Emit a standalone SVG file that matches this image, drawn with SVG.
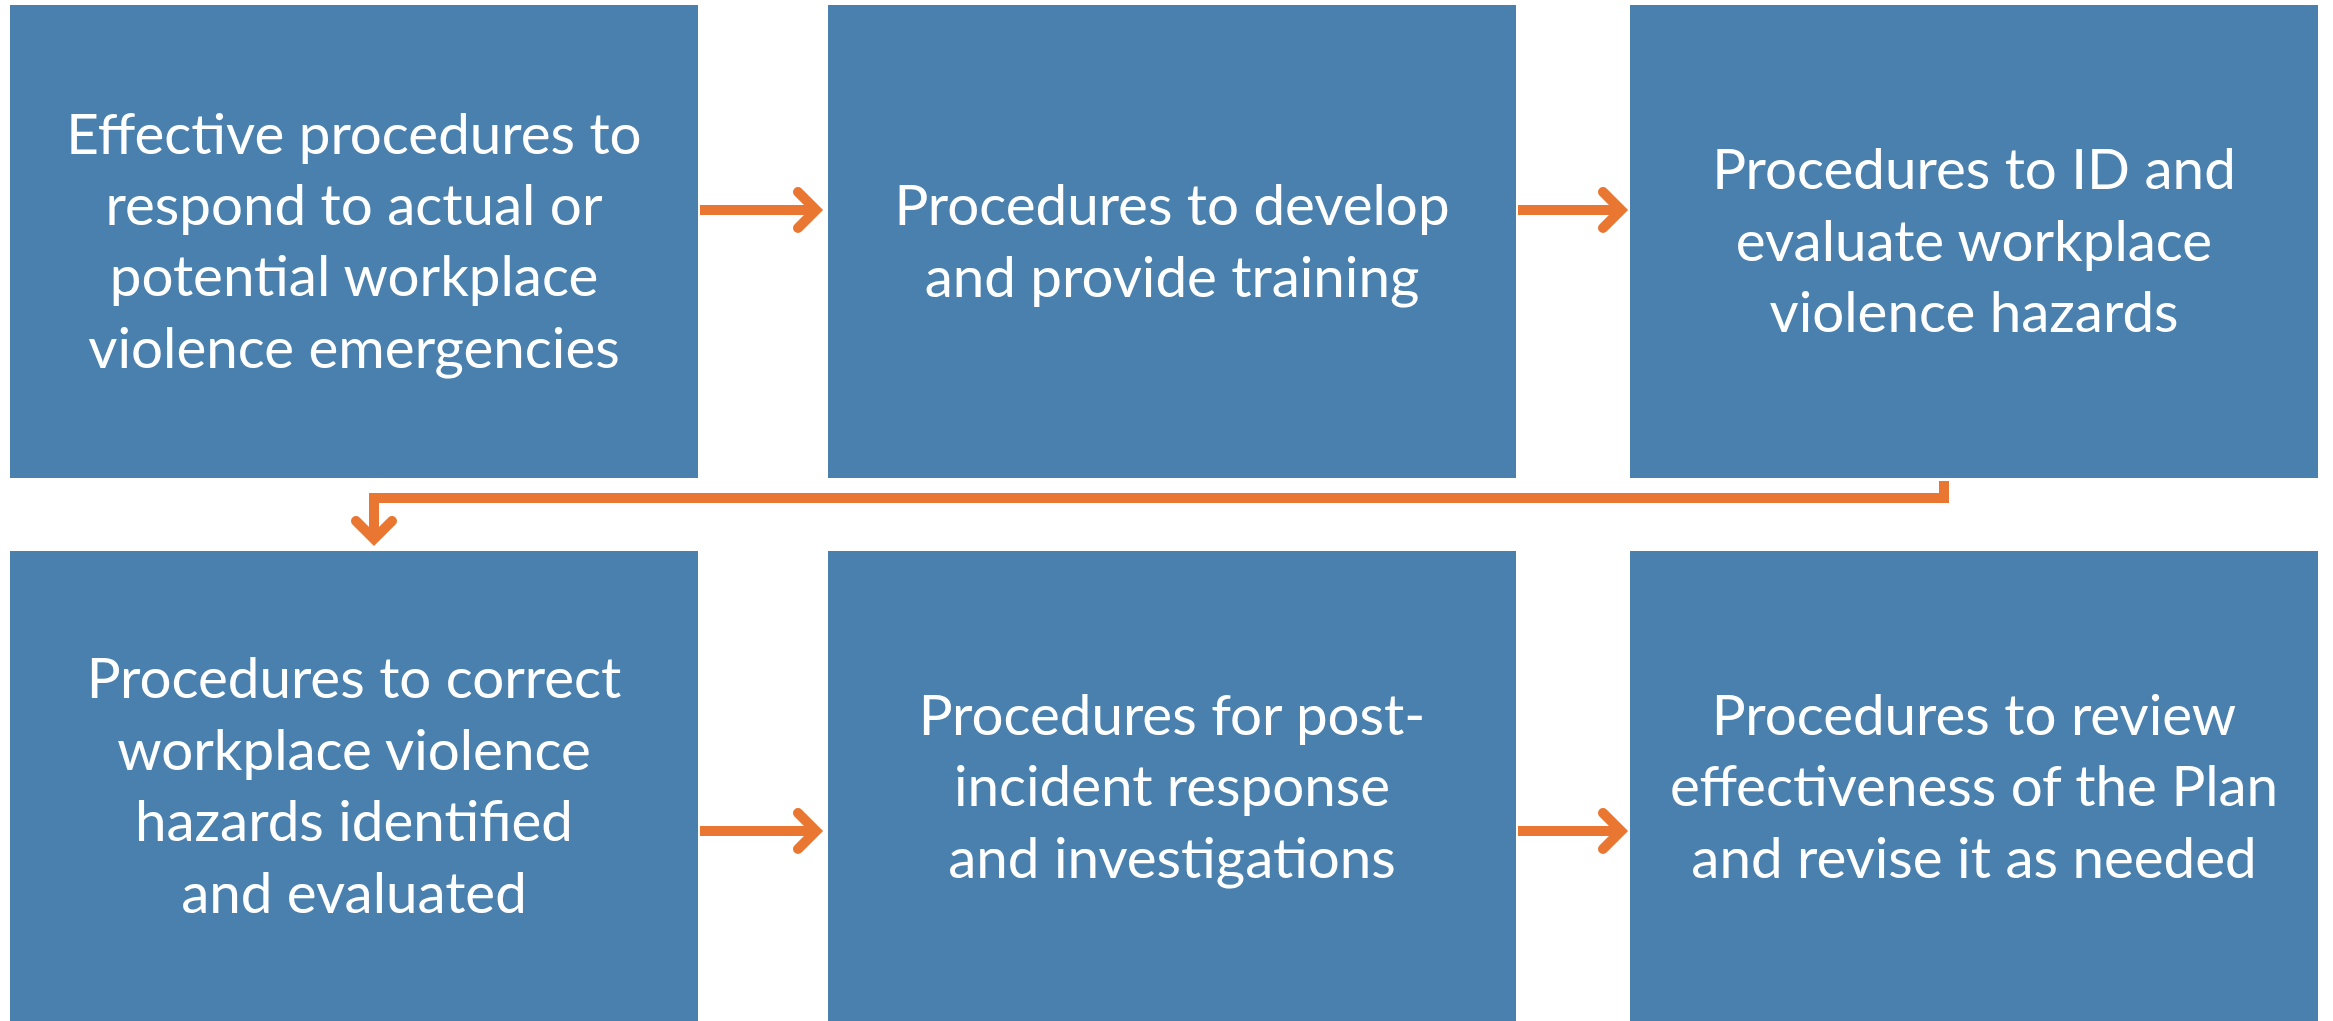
<svg xmlns="http://www.w3.org/2000/svg" width="2333" height="1021" viewBox="0 0 2333 1021">
<style>
.box{fill:#4A80AE;}
.t{font-family:Lato,"Open Sans","Liberation Sans",sans-serif;font-size:56.5px;fill:#FFFFFF;text-anchor:middle;}
.ln{fill:none;stroke:#E97731;stroke-width:10;stroke-linecap:butt;stroke-linejoin:miter;}
.hd{fill:none;stroke:#E97731;stroke-width:10;stroke-linecap:round;stroke-linejoin:miter;stroke-miterlimit:10;}
</style>
<rect width="2333" height="1021" fill="#FFFFFF"/>
<g id="node1"><rect class="box" x="10" y="5" width="688" height="473"/>
<text class="t"><tspan x="354" y="154">Effective procedures to</tspan><tspan x="354" y="225">respond to actual or</tspan><tspan x="354" y="296">potential workplace</tspan><tspan x="354" y="368">violence emergencies</tspan></text></g>
<g id="node2"><rect class="box" x="828" y="5" width="688" height="473"/>
<text class="t"><tspan x="1172" y="225">Procedures to develop</tspan><tspan x="1172" y="297">and provide training</tspan></text></g>
<g id="node3"><rect class="box" x="1630" y="5" width="688" height="473"/>
<text class="t"><tspan x="1974" y="189">Procedures to ID and</tspan><tspan x="1974" y="261">evaluate workplace</tspan><tspan x="1974" y="332">violence hazards</tspan></text></g>
<g id="node4"><rect class="box" x="10" y="551" width="688" height="473"/>
<text class="t"><tspan x="354" y="698">Procedures to correct</tspan><tspan x="354" y="770">workplace violence</tspan><tspan x="354" y="841">hazards identified</tspan><tspan x="354" y="913">and evaluated</tspan></text></g>
<g id="node5"><rect class="box" x="828" y="551" width="688" height="473"/>
<text class="t"><tspan x="1172" y="735">Procedures for post-</tspan><tspan x="1172" y="806">incident response</tspan><tspan x="1172" y="878">and investigations</tspan></text></g>
<g id="node6"><rect class="box" x="1630" y="551" width="688" height="473"/>
<text class="t"><tspan x="1974" y="735">Procedures to review</tspan><tspan x="1974" y="806">effectiveness of the Plan</tspan><tspan x="1974" y="878">and revise it as needed</tspan></text></g>
<g id="connectors">
<path class="ln" d="M700,210 H814"/>
<polyline class="hd" points="798,192 816,210 798,228"/>
<path class="ln" d="M1518,210 H1619"/>
<polyline class="hd" points="1603,192 1621,210 1603,228"/>
<path class="ln" d="M1944,481 V498 H374 V536"/>
<polyline class="hd" points="356,521 374,539 392,521"/>
<path class="ln" d="M700,831 H814"/>
<polyline class="hd" points="798,813 816,831 798,849"/>
<path class="ln" d="M1518,831 H1619"/>
<polyline class="hd" points="1603,813 1621,831 1603,849"/>
</g>
</svg>
